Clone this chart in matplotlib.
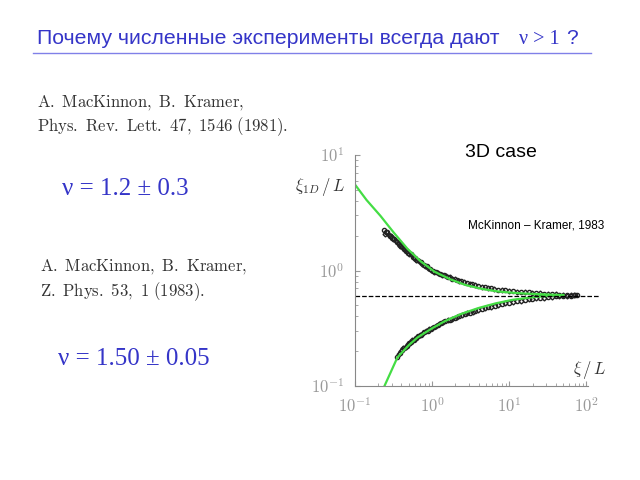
import matplotlib.pyplot as plt
import numpy as np

plt.rcParams['mathtext.fontset'] = 'cm'

# fitted curves, log10 coordinates
up_fit_x = [-1.0, -0.85, -0.67, -0.5, -0.32, -0.15, 0.03, 0.23, 0.43, 0.65, 0.86, 1.05, 1.21, 1.4, 1.57, 1.7]
up_fit_y = [0.744, 0.61, 0.473, 0.33, 0.188, 0.08, -0.01, -0.075, -0.125, -0.16, -0.182, -0.193, -0.2, -0.205, -0.21, -0.212]
lo_fit_x = [-0.614, -0.45, -0.3, -0.19, 0.0, 0.16, 0.38, 0.60, 0.82, 1.04, 1.26, 1.48, 1.7]
lo_fit_y = [-0.994, -0.752, -0.645, -0.58, -0.5, -0.44, -0.375, -0.325, -0.285, -0.254, -0.235, -0.22, -0.213]

# numerical data points (log10), two sets of system sizes per branch
up_x = [-0.63, -0.60, -0.58, -0.55, -0.52, -0.49, -0.46, -0.43, -0.40, -0.37,
        -0.34, -0.31, -0.28, -0.25, -0.22, -0.19, -0.15, -0.11, -0.07, -0.03,
        0.01, 0.05, 0.10, 0.15, 0.20, 0.26, 0.32, 0.38, 0.45, 0.52,
        0.60, 0.68, 0.76, 0.85, 0.95, 1.05, 1.15, 1.25, 1.35, 1.45,
        1.55, 1.65, 1.75, 1.85]
up_y = [0.35, 0.33, 0.33, 0.30, 0.28, 0.27, 0.245, 0.23, 0.21, 0.19,
        0.17, 0.155, 0.14, 0.12, 0.105, 0.088, 0.07, 0.05, 0.035, 0.015,
        0.0, -0.015, -0.03, -0.04, -0.055, -0.07, -0.08, -0.095, -0.11, -0.12,
        -0.135, -0.145, -0.155, -0.165, -0.172, -0.18, -0.186, -0.19, -0.195, -0.2,
        -0.205, -0.208, -0.21, -0.215]
up_x2 = [-0.615, -0.565, -0.535, -0.505, -0.475, -0.445, -0.415, -0.385, -0.355, -0.325,
         -0.295, -0.265, -0.235, -0.205, -0.17, -0.13, -0.09, -0.05, -0.01, 0.03,
         0.075, 0.125, 0.175, 0.23, 0.29, 0.35, 0.415, 0.485, 0.56, 0.64,
         0.72, 0.80, 0.90, 1.00, 1.10, 1.20, 1.30, 1.40, 1.50, 1.60,
         1.70, 1.80]
up_y2 = [0.32, 0.31, 0.295, 0.275, 0.255, 0.24, 0.215, 0.2, 0.18, 0.165,
         0.145, 0.13, 0.11, 0.095, 0.08, 0.06, 0.04, 0.02, 0.005, -0.01,
         -0.02, -0.035, -0.05, -0.06, -0.075, -0.09, -0.1, -0.115, -0.125, -0.14,
         -0.15, -0.16, -0.168, -0.176, -0.183, -0.188, -0.193, -0.197, -0.203, -0.206,
         -0.21, -0.212]
lo_x = [-0.45, -0.42, -0.39, -0.36, -0.33, -0.30, -0.27, -0.24, -0.21, -0.18,
        -0.14, -0.10, -0.06, -0.02, 0.02, 0.07, 0.12, 0.17, 0.23, 0.29,
        0.35, 0.42, 0.49, 0.56, 0.64, 0.72, 0.81, 0.90, 1.00, 1.10,
        1.20, 1.30, 1.40, 1.50, 1.60, 1.70, 1.80, 1.88]
lo_y = [-0.75, -0.71, -0.69, -0.67, -0.65, -0.63, -0.615, -0.60, -0.585, -0.57,
        -0.555, -0.535, -0.52, -0.505, -0.49, -0.47, -0.455, -0.44, -0.425, -0.41,
        -0.395, -0.38, -0.365, -0.35, -0.335, -0.32, -0.305, -0.29, -0.278, -0.265,
        -0.255, -0.245, -0.238, -0.23, -0.225, -0.22, -0.217, -0.215]
lo_x2 = [-0.435, -0.405, -0.375, -0.345, -0.315, -0.285, -0.255, -0.225, -0.195, -0.16,
         -0.12, -0.08, -0.04, 0.0, 0.045, 0.095, 0.145, 0.2, 0.26, 0.32,
         0.385, 0.455, 0.525, 0.6, 0.68, 0.765, 0.855, 0.95, 1.05, 1.15,
         1.25, 1.35, 1.45, 1.55, 1.65, 1.75, 1.84]
lo_y2 = [-0.72, -0.7, -0.675, -0.66, -0.635, -0.625, -0.605, -0.595, -0.575, -0.56,
         -0.545, -0.525, -0.51, -0.495, -0.48, -0.462, -0.448, -0.432, -0.418, -0.402,
         -0.388, -0.372, -0.357, -0.342, -0.327, -0.312, -0.298, -0.284, -0.27, -0.26,
         -0.25, -0.242, -0.234, -0.228, -0.222, -0.218, -0.216]
fixed_point = 0.6

blue = '#3535c8'
grey_txt = '#333333'

fig = plt.figure(figsize=(6.4, 4.8), dpi=100)

def px(x, y):
    return x / 640, 1 - y / 480

# --- slide text ---
fig.text(*px(37, 44), 'Почему численные эксперименты всегда дают', color=blue,
         fontsize=15.3, family='Liberation Sans', va='baseline')
fig.text(*px(519, 44), r'ν > 1', color=blue, fontsize=14.5, family='Liberation Serif', va='baseline')
fig.text(*px(566, 44), '?', color=blue, fontsize=15, family='Liberation Sans', va='baseline')
fig.add_artist(plt.Line2D([33 / 640, 591 / 640], [1 - 53 / 480] * 2, color='#8080e8', lw=1))

fig.text(*px(37, 106), r'$\mathrm{A.\ MacKinnon,\ B.\ Kramer,}$', color=grey_txt, fontsize=12, va='baseline')
fig.text(*px(37, 131), r'$\mathrm{Phys.\ Rev.\ Lett.\ }\mathbf{47}\mathrm{,\ 1546\ (1981).}$',
         color=grey_txt, fontsize=12, va='baseline')
fig.text(*px(62, 195), 'ν = 1.2 ± 0.3', color=blue, fontsize=18, family='Liberation Serif', va='baseline')

fig.text(*px(40, 270), r'$\mathrm{A.\ MacKinnon,\ B.\ Kramer,}$', color=grey_txt, fontsize=12, va='baseline')
fig.text(*px(40, 296), r'$\mathrm{Z.\ Phys.\ }\mathbf{53}\mathrm{,\ 1\ (1983).}$',
         color=grey_txt, fontsize=12, va='baseline')
fig.text(*px(58, 365), 'ν = 1.50 ± 0.05', color=blue, fontsize=18, family='Liberation Serif', va='baseline')

# --- embedded plot ---
ax = fig.add_axes([355 / 640, 94 / 480, 233 / 640, 231 / 480])
ax.set_xscale('log')
ax.set_yscale('log')
ax.set_xlim(0.1, 10 ** 2.02)
ax.set_ylim(0.1, 10)

mk = dict(ls='none', mfc='none', mec='#222222', mew=1.0)
ax.plot(10 ** np.array(up_x), 10 ** np.array(up_y), marker='o', ms=3, **mk)
ax.plot(10 ** np.array(up_x2), 10 ** np.array(up_y2), marker='D', ms=2.5, **mk)
ax.plot(10 ** np.array(lo_x), 10 ** np.array(lo_y), marker='o', ms=3, **mk)
ax.plot(10 ** np.array(lo_x2), 10 ** np.array(lo_y2), marker='D', ms=2.5, **mk)
ax.plot(10 ** np.array(up_fit_x), 10 ** np.array(up_fit_y), color='#44dd44', lw=1.6)
ax.plot(10 ** np.array(lo_fit_x), 10 ** np.array(lo_fit_y), color='#44dd44', lw=1.6)
ax.axhline(fixed_point, xmin=0, xmax=1.05, color='black', lw=0.9, ls='--', clip_on=False)

for s in ['top', 'right']:
    ax.spines[s].set_visible(False)
for s in ['left', 'bottom']:
    ax.spines[s].set_color('#888888')
ax.tick_params(which='both', colors='#999999', direction='in')
ax.tick_params(which='major', labelsize=12, pad=8)
ax.set_xticks([0.1, 1, 10, 100], [r'$10^{-1}$', r'$10^{0}$', r'$10^{1}$', r'$10^{2}$'])
ax.set_yticks([0.1, 1, 10], [r'$10^{-1}$', r'$10^{0}$', r'$10^{1}$'])

fig.text(*px(320, 191), r'$\xi_{1D}\,/\,L$', fontsize=12, color='#333333', ha='center', va='baseline')
fig.text(*px(590, 374), r'$\xi\,/\,L$', fontsize=12, color='#333333', ha='center', va='baseline')
fig.text(*px(465, 157), '3D case', fontsize=14, family='Liberation Sans', va='baseline')
fig.text(*px(468, 229), 'McKinnon – Kramer, 1983', fontsize=8.5, family='Liberation Sans', va='baseline')

fig.savefig('out.png', dpi=100)
